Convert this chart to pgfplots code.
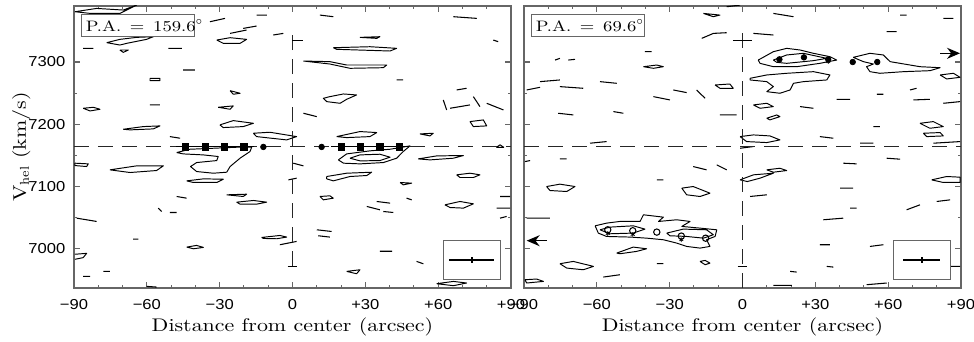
\documentclass[border=0pt]{standalone}
\usepackage{fontspec}
\usepackage{pgfplots}
\pgfplotsset{compat=1.18}
\usetikzlibrary{arrows.meta}
\newfontfamily\hv[FakeStretch=1.15]{Liberation Sans}
\newfontfamily\lbl[FakeStretch=1.2]{Latin Modern Roman}
\definecolor{frame}{gray}{0.4}

\pgfplotsset{
  pv/.style={
    width=87.4mm, height=56.4mm, scale only axis,
    xmin=-90, xmax=90, ymin=6937, ymax=7390,
    axis line style={frame, line width=0.8pt},
    tick style={frame, line width=0.6pt},
    tick align=inside,
    major tick length=1.2mm, minor tick length=0.6mm,
    xtick={-90,-60,-30,0,30,60,90},
    xticklabels={−90,−60,−30,0,+30,+60,+90},
    minor x tick num=2,
    ytick={7000,7100,7200,7300},
    minor y tick num=1,
    ticklabel style={font=\hv\fontsize{8.2}{10}\selectfont},
    xticklabel style={yshift=-1.1mm},
    unbounded coords=jump,
  },
  cont/.style={black, line width=0.55pt, mark=none, line join=round},
  refl/.style={black!85, line width=0.6pt, mark=none, dash pattern=on 3mm off 1.8mm},
  seg/.style={black, line width=0.6pt, mark=none},
}
\tikzset{lab/.style={font=\lbl\fontsize{10.4}{12}\selectfont, inner sep=0pt}}

% closed contours, P.A. = 159.6
\pgfplotstableread{
x y
-89.6 7380.8
-80.7 7386.1
-69.7 7383.5
-64.2 7391.5
-71.1 7378.1
-83.4 7378.1
-89.6 7380.8
nan nan
-76.5 7331.1
-71.1 7336.4
-64.2 7339.6
-57.3 7340.7
-60.1 7336.4
-68.3 7330.0
-71.1 7327.3
-76.5 7331.1
nan nan
-71.1 7319.3
-67.6 7319.3
-69.7 7315.5
-71.1 7319.3
nan nan
-31.2 7335.3
-25.7 7339.1
-18.9 7336.4
-21.6 7330.0
-28.5 7330.0
-31.2 7335.3
nan nan
4.5 7301.6
15.4 7300.6
22.3 7295.2
38.8 7295.2
37.4 7290.9
23.7 7289.9
15.4 7296.8
4.5 7301.6
nan nan
16.8 7323.0
31.9 7324.6
42.9 7322.0
40.2 7317.7
18.2 7320.4
16.8 7323.0
nan nan
27.8 7339.6
36.0 7340.7
34.7 7338.0
27.8 7339.6
nan nan
-58.7 7273.8
-54.6 7273.8
-54.6 7270.1
-58.7 7270.1
-58.7 7273.8
nan nan
15.4 7244.4
21.0 7248.7
26.4 7247.1
22.3 7240.1
19.6 7233.7
14.1 7236.4
12.7 7241.7
15.4 7244.4
nan nan
-86.2 7225.7
-82.0 7227.3
-79.3 7224.1
-83.4 7221.4
-86.2 7225.7
nan nan
-30.6 7227.3
-24.4 7229.5
-25.7 7224.1
-30.6 7227.3
nan nan
-25.7 7254.0
-21.6 7249.8
-24.4 7248.2
-25.7 7254.0
nan nan
-69.7 7192.0
-61.4 7196.3
-54.6 7197.4
-57.3 7192.6
-66.9 7191.0
-69.7 7192.0
nan nan
-29.9 7199.0
-24.4 7205.9
-16.1 7201.6
-20.3 7196.3
-28.5 7194.7
-29.9 7199.0
nan nan
-16.1 7185.6
-9.3 7187.2
1.7 7180.2
-2.4 7174.9
-14.8 7180.2
-16.1 7185.6
nan nan
18.2 7180.2
27.8 7188.3
34.7 7186.7
31.9 7180.2
22.3 7178.6
18.2 7180.2
nan nan
73.1 7204.3
78.6 7207.0
80.0 7197.4
74.5 7196.3
73.1 7204.3
nan nan
52.5 7184.5
58.0 7185.6
56.6 7181.3
52.5 7184.5
nan nan
84.0 7163.0
87.0 7163.0
85.5 7167.0
84.0 7163.0
nan nan
-47.7 7154.6
-42.2 7159.9
-32.6 7161.5
-23.0 7163.1
-16.8 7163.1
-17.5 7156.2
-21.6 7145.5
-25.7 7132.1
-27.1 7123.0
-32.6 7121.4
-39.5 7124.1
-42.0 7132.1
-39.5 7138.5
-31.2 7141.7
-30.6 7148.2
-36.7 7150.8
-45.0 7152.4
-47.7 7154.6
nan nan
-75.2 7126.8
-64.2 7133.2
-53.2 7133.2
-56.0 7125.7
-66.9 7122.5
-75.2 7126.8
nan nan
-43.6 7109.1
-36.7 7112.3
-28.5 7111.8
-31.2 7106.5
-40.8 7106.5
-43.6 7109.1
nan nan
-23.0 7074.9
-16.1 7077.6
-10.6 7074.9
-14.8 7071.7
-21.6 7071.7
-23.0 7074.9
nan nan
-27.1 7086.7
-18.9 7087.7
-20.3 7084.0
-27.1 7086.7
nan nan
-12.7 7018.2
-5.2 7021.4
-2.4 7018.8
-6.5 7016.1
-12.0 7016.6
-12.7 7018.2
nan nan
-43.6 7002.7
-39.5 7005.4
-36.7 7002.2
-40.8 7000.0
-43.6 7002.7
nan nan
-89.6 7137.5
-84.1 7136.4
-84.8 7132.1
-89.6 7133.7
-89.6 7137.5
nan nan
18.9 7142.8
22.3 7152.4
31.9 7157.3
40.2 7159.9
48.4 7165.3
45.6 7156.2
42.9 7145.5
37.4 7138.5
27.8 7136.4
21.0 7137.5
18.9 7142.8
nan nan
23.7 7145.5
27.8 7150.8
36.0 7151.9
40.2 7147.1
36.0 7141.7
27.8 7141.2
23.7 7145.5
nan nan
51.8 7144.4
59.4 7149.2
70.4 7149.8
66.3 7145.5
56.6 7142.8
51.8 7144.4
nan nan
14.1 7116.1
22.3 7121.4
32.6 7123.0
30.6 7117.7
23.7 7116.1
16.8 7109.1
14.1 7112.3
14.1 7116.1
nan nan
67.6 7118.8
73.1 7121.4
77.2 7118.8
74.5 7114.5
69.0 7114.5
67.6 7118.8
nan nan
62.8 7070.6
69.0 7076.0
74.5 7072.2
70.4 7065.3
64.9 7066.3
62.8 7070.6
nan nan
44.3 7106.5
49.1 7105.4
45.6 7102.7
44.3 7106.5
nan nan
11.3 7084.0
15.4 7085.1
16.8 7081.3
12.7 7078.6
11.3 7084.0
nan nan
59.4 6943.9
66.3 6947.6
71.7 6945.0
66.3 6940.7
59.4 6943.9
nan nan
-89.6 6991.2
-84.8 6992.7
-86.2 6985.8
-89.6 6983.1
nan nan
22.3 6963.7
27.8 6966.3
26.4 6959.9
22.3 6963.7
}\contA

% short open contour pieces, P.A. = 159.6
\pgfplotstableread{
x y
-86.2 7322.0
-82.0 7322.0
nan nan
-51.1 7322.0
-45.6 7322.0
nan nan
-45.0 7287.2
-40.2 7287.2
nan nan
-58.7 7231.1
-54.6 7231.1
nan nan
-34.0 7364.7
-27.8 7370.1
nan nan
-14.8 7375.4
-10.6 7375.4
nan nan
-25.7 7346.0
-18.9 7351.4
nan nan
-20.3 7354.0
-14.8 7357.8
nan nan
-7.9 7343.4
-3.8 7346.0
nan nan
11.3 7375.4
16.8 7372.8
nan nan
42.9 7271.2
45.6 7271.2
nan nan
66.3 7372.8
75.9 7370.1
nan nan
64.9 7225.7
73.1 7231.1
nan nan
67.6 7255.1
71.7 7257.8
nan nan
74.5 7244.4
77.2 7228.4
nan nan
80.0 7233.7
86.9 7223.0
nan nan
62.1 7239.1
63.5 7223.0
nan nan
4.5 7217.7
10.0 7212.3
nan nan
82.7 7335.3
84.7 7332.7
nan nan
-50.5 7180.2
-46.3 7177.6
nan nan
0.3 7137.5
4.5 7133.2
nan nan
-1.7 7110.7
1.7 7113.4
nan nan
-47.7 7084.0
-43.6 7081.3
nan nan
-55.3 7065.3
-53.9 7059.9
nan nan
-50.5 7058.3
-47.7 7058.3
nan nan
-88.9 7049.2
-80.7 7043.9
nan nan
-65.6 7015.5
-63.5 7015.5
nan nan
-5.2 7006.5
1.7 7011.8
nan nan
10.0 7030.5
16.1 7027.8
nan nan
10.6 7020.9
15.4 7018.8
nan nan
-77.9 6963.7
-75.2 6963.7
nan nan
-86.2 6955.6
-83.4 6955.6
nan nan
30.6 7068.0
36.0 7062.6
nan nan
34.7 7076.0
40.2 7073.3
nan nan
37.4 7059.9
41.5 7058.3
nan nan
47.0 7081.3
49.1 7078.6
nan nan
51.1 6979.7
53.9 6975.9
nan nan
84.1 7065.3
89.6 7065.3
nan nan
85.5 7084.0
89.6 7084.0
nan nan
85.5 7049.2
88.2 7051.9
nan nan
-60.1 6939.6
-56.0 6938.5
nan nan
36.0 6996.0
41.0 6996.0
}\segA

% closed contours, P.A. = 69.6
\pgfplotstableread{
x y
6.5 7303.2
12.7 7316.6
18.2 7322.0
23.7 7319.3
29.2 7314.0
36.0 7308.6
38.8 7303.2
31.9 7297.9
22.3 7292.5
12.7 7292.5
7.2 7297.9
6.5 7303.2
nan nan
12.7 7303.2
18.2 7311.3
25.1 7314.0
34.7 7305.9
29.2 7302.2
18.2 7297.9
14.1 7299.5
12.7 7303.2
nan nan
45.6 7307.5
52.5 7314.0
58.0 7311.3
60.8 7300.6
73.1 7292.5
81.4 7290.9
77.2 7286.1
66.3 7284.5
56.6 7281.9
52.5 7284.5
51.1 7292.5
53.9 7296.8
49.8 7300.6
45.6 7307.5
nan nan
3.1 7273.8
10.0 7279.2
18.2 7281.9
29.2 7284.5
36.0 7279.2
34.7 7271.2
25.1 7268.5
21.0 7265.8
19.6 7255.1
15.4 7249.8
10.0 7252.4
12.7 7260.5
10.0 7268.5
3.1 7271.2
3.1 7273.8
nan nan
4.5 7231.1
10.0 7233.7
12.7 7228.4
7.2 7225.7
4.5 7231.1
nan nan
-1.0 7180.2
4.5 7182.9
11.3 7181.3
15.4 7174.9
10.0 7170.6
1.7 7172.2
-1.0 7180.2
nan nan
-16.1 7378.1
-9.3 7375.4
-12.0 7372.8
-16.1 7378.1
nan nan
81.4 7279.2
86.9 7281.9
89.6 7275.4
84.1 7272.8
81.4 7279.2
nan nan
73.1 7201.6
78.6 7204.3
82.7 7196.3
77.2 7193.6
73.1 7201.6
nan nan
74.5 7185.6
81.4 7186.7
82.7 7181.3
75.9 7180.2
74.5 7185.6
nan nan
-40.8 7292.5
-35.3 7295.2
-32.6 7292.5
-36.7 7289.9
-40.8 7292.5
nan nan
-11.3 7263.1
-5.2 7264.7
-3.8 7257.8
-9.3 7257.8
-11.3 7263.1
nan nan
10.0 7209.7
14.1 7215.0
15.4 7212.3
11.3 7207.0
10.0 7209.7
nan nan
-60.7 7036.9
-56.0 7041.2
-50.5 7043.9
-42.2 7043.9
-40.8 7054.6
-32.6 7050.8
-34.6 7043.9
-27.1 7046.6
-21.6 7043.9
-25.0 7035.9
-17.5 7033.2
-10.6 7030.5
-11.3 7019.8
-14.8 7014.5
-13.4 7003.8
-17.5 7001.1
-23.0 7003.8
-27.1 7009.1
-32.6 7014.5
-39.5 7017.1
-46.3 7018.8
-56.0 7019.8
-59.4 7025.2
-60.7 7036.9
nan nan
-58.7 7030.5
-54.6 7034.8
-45.0 7036.9
-40.2 7031.6
-45.0 7025.2
-54.6 7024.1
-58.7 7030.5
nan nan
-31.2 7025.2
-24.4 7031.6
-14.8 7030.5
-12.0 7022.5
-16.1 7017.1
-23.0 7019.8
-29.9 7020.9
-31.2 7025.2
nan nan
-80.7 7100.0
-75.2 7103.8
-69.0 7100.0
-72.4 7092.0
-79.3 7093.6
-80.7 7100.0
nan nan
-25.0 7097.4
-20.3 7100.0
-13.4 7089.3
-17.5 7084.0
-23.0 7086.7
-25.0 7097.4
nan nan
-51.8 6993.1
-45.0 7002.7
-39.5 7000.0
-43.6 6995.8
-50.5 6992.0
-51.8 6993.1
nan nan
-75.2 6976.0
-69.7 6979.7
-61.4 6971.7
-65.6 6966.3
-72.4 6969.0
-75.2 6976.0
nan nan
-89.6 6950.3
-84.8 6951.4
-82.0 6947.6
-88.9 6945.0
-89.6 6950.3
nan nan
-17.5 6979.7
-15.4 6981.3
-13.4 6977.0
-15.4 6974.4
-17.5 6979.7
nan nan
-1.0 7110.7
4.5 7118.8
12.7 7121.4
7.2 7113.4
2.0 7108.0
-1.0 7110.7
nan nan
10.0 7126.8
15.4 7129.4
18.2 7125.7
12.7 7123.0
10.0 7126.8
nan nan
77.9 7110.7
84.1 7116.1
89.6 7115.0
89.6 7106.5
82.7 7106.5
77.9 7110.7
}\contB

% short open contour pieces, P.A. = 69.6
\pgfplotstableread{
x y
-16.8 7338.0
-12.0 7346.0
-6.5 7347.1
nan nan
4.5 7346.0
12.7 7343.4
nan nan
12.7 7378.1
21.0 7372.8
nan nan
-6.5 7388.8
-1.0 7391.5
nan nan
-40.2 7316.6
-37.4 7316.6
nan nan
-77.2 7303.2
-75.2 7305.9
nan nan
-71.7 7303.2
-69.0 7304.3
nan nan
-83.4 7268.5
-75.2 7271.2
nan nan
-75.2 7260.5
-65.6 7257.8
nan nan
-58.7 7268.5
-51.8 7265.8
nan nan
-88.9 7255.1
-83.4 7259.4
nan nan
-36.7 7244.4
-29.9 7239.1
nan nan
-28.5 7255.1
-23.0 7250.9
nan nan
-18.9 7255.1
-15.4 7241.7
nan nan
-75.9 7217.7
-69.7 7215.0
nan nan
-53.2 7220.4
-49.1 7217.7
nan nan
-9.3 7215.0
-2.4 7215.0
nan nan
23.7 7228.4
29.2 7225.7
nan nan
38.8 7240.1
44.3 7240.1
nan nan
55.3 7248.2
58.0 7248.2
nan nan
70.4 7239.1
77.2 7240.1
nan nan
69.0 7255.1
71.7 7257.8
nan nan
59.4 7348.7
63.5 7348.7
nan nan
64.9 7375.4
67.6 7375.4
nan nan
82.7 7370.1
86.9 7370.1
nan nan
82.7 7233.7
89.6 7236.4
nan nan
53.9 7196.3
56.6 7196.3
nan nan
-62.8 7169.6
-56.0 7172.2
nan nan
31.9 7180.2
37.4 7177.6
nan nan
78.6 7169.6
89.6 7172.2
nan nan
-89.6 7140.1
-87.5 7141.7
nan nan
-75.2 7144.4
-72.4 7144.4
nan nan
-20.3 7132.1
-14.8 7126.8
nan nan
-10.6 7134.8
-6.5 7126.8
nan nan
-1.0 7161.5
4.5 7164.2
nan nan
-35.3 7110.7
-32.6 7110.7
nan nan
3.1 7084.0
10.0 7086.7
nan nan
33.3 7046.6
41.5 7049.2
nan nan
40.2 7097.4
45.6 7097.4
nan nan
41.5 7137.5
47.0 7136.4
nan nan
59.4 7145.5
64.9 7143.9
nan nan
48.4 7169.6
53.9 7169.6
nan nan
44.3 7065.3
47.0 7065.3
nan nan
52.5 7003.8
58.0 7006.5
nan nan
67.6 7062.6
73.1 7070.6
nan nan
80.0 7076.0
85.5 7078.6
nan nan
31.9 7006.5
36.0 7006.5
nan nan
19.6 6963.7
22.3 6962.6
nan nan
34.7 6971.7
37.4 6970.6
nan nan
12.7 6941.2
20.3 6941.2
nan nan
51.1 6942.3
59.4 6945.0
nan nan
85.5 6971.7
89.6 6971.7
nan nan
-35.3 6976.0
-32.6 6976.0
nan nan
-57.3 6954.6
-50.5 6958.3
nan nan
-88.9 7049.2
-79.3 7049.2
}\segB

\begin{document}
\begin{tikzpicture}
\path[use as bounding box] (-14.8mm,-10.8mm) rectangle (180mm,57.6mm);

% ---------------- P.A. = 159.6
\begin{axis}[pv, at={(0,0)}, anchor=south west,
  yticklabels={7000,7100,7200,7300},
  yticklabel style={xshift=-0.5mm},
]
\addplot[cont] table {\contA};
\addplot[seg] table {\segA};
\addplot[refl] coordinates {(-90,7163.6) (90,7163.6)};
\addplot[refl] coordinates {(0,6972) (0,7355)};
\addplot[seg] coordinates {(0,7334) (4.5,7334)};
\addplot[seg] coordinates {(-2,6972) (2,6972)};
% rotation curve points
\addplot[only marks, mark=square*, mark size=1.8pt, black,
  error bars/.cd, x dir=both, x explicit, error mark=none,
  error bar style={line width=0.6pt}]
  coordinates {(-44,7163.6) +- (4,0) (-36,7163.6) +- (4,0) (-28,7163.6) +- (4,0) (-20,7163.6) +- (4,0)
               (20,7163.6) +- (4,0) (28,7163.6) +- (4,0) (36,7163.6) +- (4,0) (44,7163.6) +- (4,0)};
\addplot[only marks, mark=*, mark size=1.6pt, black] coordinates {(-12,7163.6) (12,7163.6)};
% resolution box
\addplot[frame, line width=0.6pt, fill=white, mark=none]
  coordinates {(62.1,6950.2) (85.5,6950.2) (85.5,7013.3) (62.1,7013.3) (62.1,6950.2)};
\addplot[black, mark=none, line width=1pt,
  error bars/.cd, x dir=both, x explicit, y dir=both, y explicit, error mark=none,
  error bar style={line width=1pt}]
  coordinates {(73.8,6982.3) +- (9.2,5)};
\draw[frame, line width=0.6pt, fill=white] (axis cs:-86.8,7340.6) rectangle (axis cs:-40.2,7377);
\node[anchor=west, font=\lbl\fontsize{8.6}{10}\selectfont, inner sep=0pt] at (axis cs:-85.3,7358.8) {P.A.\ \,=\ \,159.6$^{\circ}$};
\end{axis}

% ---------------- P.A. = 69.6
\begin{axis}[pv, at={(90mm,0)}, anchor=south west,
  yticklabels={},
]
\addplot[cont] table {\contB};
\addplot[seg] table {\segB};
\addplot[refl] coordinates {(-90,7163.6) (90,7163.6)};
\addplot[refl] coordinates {(0,6937) (0,7346)};
\addplot[seg] coordinates {(-4,7334) (4,7334)};
\addplot[seg] coordinates {(-2,6972) (2,6972)};
\addplot[only marks, mark=*, mark size=1.6pt, black]
  coordinates {(15.2,7304.3) (25.3,7307.5) (35.3,7304.3) (45.4,7300.0) (55.5,7300.0)};
\addplot[only marks, mark=asterisk, mark size=1.3pt, black]
  coordinates {(-55.5,7024.5) (-45.2,7023.0) (-25.2,7014.5) (35.3,7300.5)};
\addplot[only marks, mark=o, mark size=1.8pt, black, fill=white, line width=0.6pt]
  coordinates {(-55.5,7030.5) (-45.2,7029.0) (-35.3,7026.8) (-25.2,7020.4) (-15.2,7017.0)};
\draw[black, line width=0.7pt, -{Stealth[length=2.6mm,width=2.2mm]}] (axis cs:81.4,7314) -- (axis cs:89.6,7314);
\draw[black, line width=0.7pt, -{Stealth[length=2.6mm,width=2.2mm]}] (axis cs:-80.6,7013) -- (axis cs:-88.9,7013);
% resolution box
\addplot[frame, line width=0.6pt, fill=white, mark=none]
  coordinates {(62.1,6950.2) (85.5,6950.2) (85.5,7013.3) (62.1,7013.3) (62.1,6950.2)};
\addplot[black, mark=none, line width=1pt,
  error bars/.cd, x dir=both, x explicit, y dir=both, y explicit, error mark=none,
  error bar style={line width=1pt}]
  coordinates {(73.8,6982.3) +- (7.5,5)};
\draw[frame, line width=0.6pt, fill=white] (axis cs:-86.8,7340.6) rectangle (axis cs:-40.2,7377);
\node[anchor=west, font=\lbl\fontsize{8.6}{10}\selectfont, inner sep=0pt] at (axis cs:-85.3,7358.8) {P.A.\ \,=\ \,69.6$^{\circ}$};
\end{axis}

% axis titles
\node[lab, anchor=base] at (43.7mm,-8.6mm) {Distance from center (arcsec)};
\node[lab, anchor=base] at (133.7mm,-8.6mm) {Distance from center (arcsec)};
\node[lab, anchor=base, rotate=90] at (-9.6mm,28.2mm) {V$_{\mathrm{hel}}$ (km/s)};
\end{tikzpicture}
\end{document}
